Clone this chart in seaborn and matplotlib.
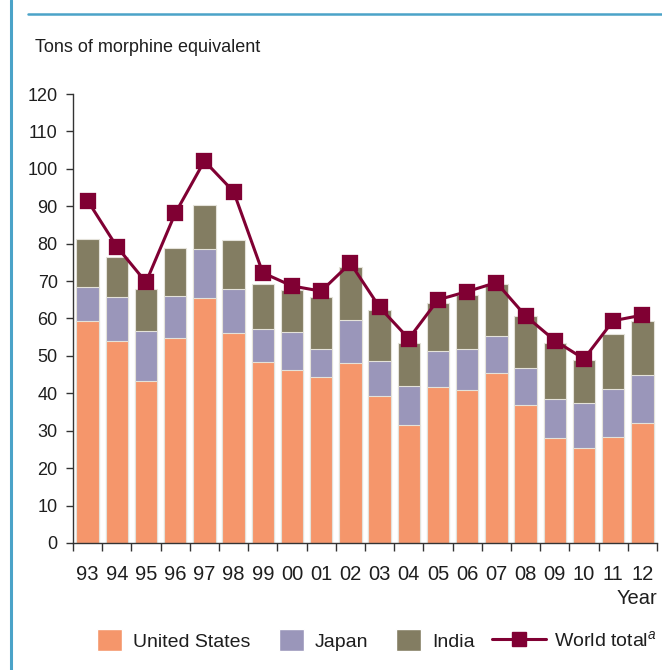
import numpy as np
import pandas as pd
import seaborn as sns
import matplotlib.pyplot as plt
from matplotlib.lines import Line2D
from matplotlib.patches import Patch

years = ["93", "94", "95", "96", "97", "98", "99", "00", "01", "02",
         "03", "04", "05", "06", "07", "08", "09", "10", "11", "12"]
united_states = [59.3, 53.9, 43.3, 54.8, 65.4, 56.0, 48.3, 46.1, 44.4, 48.2,
                 39.4, 31.6, 41.6, 40.9, 45.4, 37.0, 28.1, 25.3, 28.2, 32.1]
japan = [9.1, 11.8, 13.3, 11.2, 13.2, 11.9, 9.0, 10.4, 7.5, 11.4,
         9.2, 10.3, 9.6, 10.9, 9.8, 9.8, 10.5, 12.2, 13.0, 12.9]
india = [12.8, 10.6, 11.3, 12.9, 11.7, 13.0, 12.0, 11.0, 13.8, 14.2,
         13.7, 11.5, 12.9, 14.4, 14.0, 13.8, 14.8, 11.5, 14.6, 14.2]
world_total = [91.5, 79.2, 69.7, 88.1, 102.1, 93.9, 72.2, 68.7, 67.3, 74.8,
               63.0, 54.6, 65.0, 67.2, 69.6, 60.7, 54.1, 49.2, 59.4, 60.9]

c_us = "#F5966B"
c_jp = "#9A96BA"
c_in = "#837D62"
c_world = "#800033"
c_frame = "#4BA3C8"

sns.set_style("ticks")
plt.rcParams["font.family"] = ["Liberation Sans", "DejaVu Sans"]
plt.rcParams["mathtext.fontset"] = "custom"
plt.rcParams["mathtext.it"] = "Liberation Sans:italic"
plt.rcParams["mathtext.rm"] = "Liberation Sans"
plt.rcParams["text.color"] = "#1e1e1e"

df = pd.DataFrame({"year": years, "us": united_states, "japan": japan,
                   "india": india, "world": world_total})
df["jp_top"] = df["us"] + df["japan"]
df["in_top"] = df["jp_top"] + df["india"]

fig = plt.figure(figsize=(6.62, 6.70), dpi=100)
ax = fig.add_axes([0.1103, 0.1896, 0.8821, 0.6701])

# stacked bars: draw cumulative tops back to front
bar_kw = dict(width=0.77, edgecolor="#E4E2DA", linewidth=0.8, saturation=1, ax=ax)
sns.barplot(data=df, x="year", y="in_top", color=c_in, **bar_kw)
sns.barplot(data=df, x="year", y="jp_top", color=c_jp, **bar_kw)
sns.barplot(data=df, x="year", y="us", color=c_us, **bar_kw)
sns.pointplot(data=df, x="year", y="world", color=c_world, markers="s",
              markersize=10.5, linewidth=2.2, ax=ax)

ax.set_xlim(-0.5, 19.5)
ax.set_ylim(0, 120)
ax.set_yticks(np.arange(0, 121, 10))
ax.set_xticks(np.arange(-0.5, 20, 1))
ax.set_xticklabels([])
ax.set_xticks(np.arange(20), minor=True)
ax.set_xticklabels(years, minor=True)
ax.tick_params(axis="x", which="major", length=6, width=1, color="#333333")
ax.tick_params(axis="x", which="minor", length=0, pad=16, labelsize=14.5,
               labelcolor="#1e1e1e")
ax.tick_params(axis="y", length=5, width=1, color="#333333", pad=6, labelsize=13,
               labelcolor="#1e1e1e")
ax.set_xlabel("")
ax.set_ylabel("")
for s in ["top", "right"]:
    ax.spines[s].set_visible(False)
for s in ["left", "bottom"]:
    ax.spines[s].set_color("#333333")
    ax.spines[s].set_linewidth(1)

fig.text(35 / 662, 1 - 48 / 670, "Tons of morphine equivalent", fontsize=13,
         va="center", ha="left")
fig.text(657 / 662, 1 - 598 / 670, "Year", fontsize=14.5, va="center", ha="right")

# frame lines
fig.add_artist(Line2D([11 / 662, 11 / 662], [0, 1], color=c_frame, lw=2.2))
fig.add_artist(Line2D([28 / 662, 1], [1 - 14 / 670, 1 - 14 / 670], color=c_frame, lw=1.8))

# legend: patches and line entry as two pieces
patch_handles = [Patch(facecolor=c_us), Patch(facecolor=c_jp), Patch(facecolor=c_in)]
fig.legend(patch_handles, ["United States", "Japan", "India"],
           loc="center left", bbox_to_anchor=(97 / 662, 1 - 640 / 670),
           ncol=3, frameon=False, fontsize=14, handlelength=1.3,
           handleheight=1.3, handletextpad=0.55, columnspacing=1.45,
           borderpad=0, borderaxespad=0)
line_handle = Line2D([], [], color=c_world, lw=2.2, marker="s", markersize=10.5)
fig.legend([line_handle], ["World total$^{\\mathit{a}}$"],
           loc="center left", bbox_to_anchor=(492 / 662, 1 - 640 / 670),
           frameon=False, fontsize=14, handlelength=2.8, handletextpad=0.4,
           borderpad=0, borderaxespad=0)

fig.savefig("out.png", dpi=100)
